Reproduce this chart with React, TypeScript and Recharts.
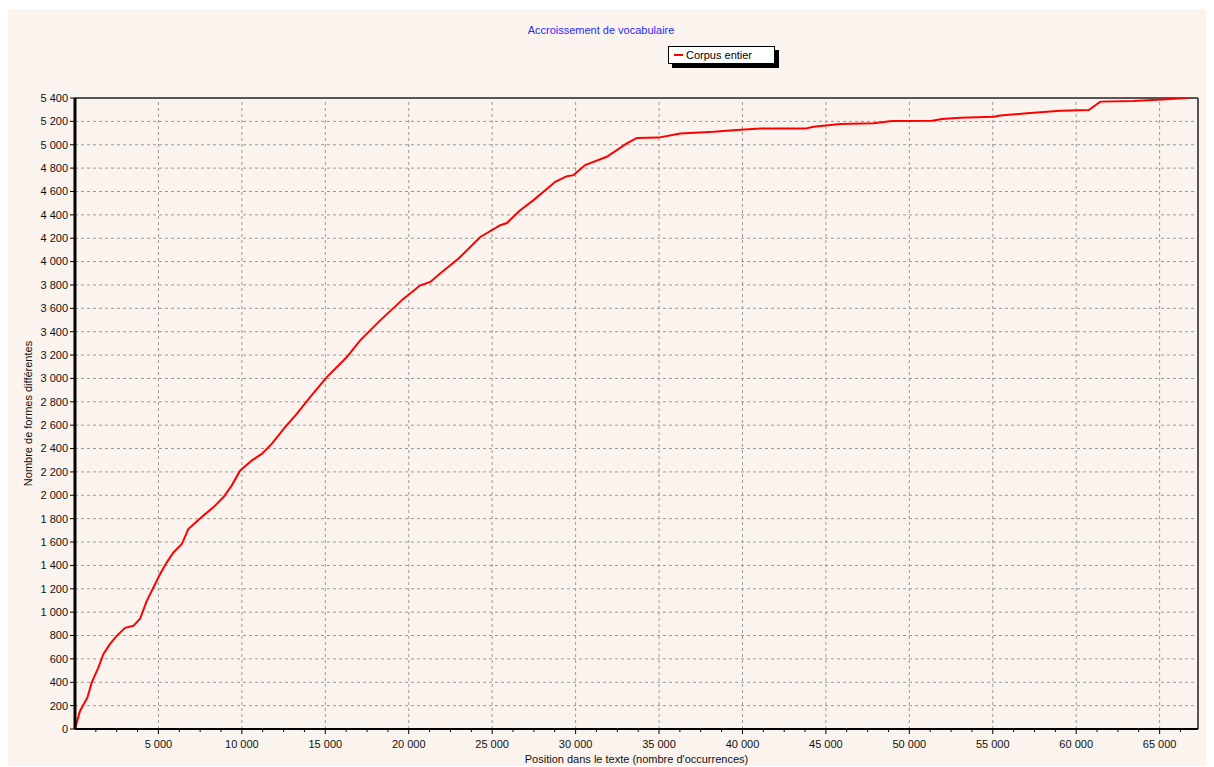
import React from "react";
import {
  LineChart,
  Line,
  XAxis,
  YAxis,
  CartesianGrid,
  ReferenceLine,
  Legend,
} from "recharts";

// position in text (occurrences) and number of distinct forms
const positions = [
  0, 300, 740, 1000, 1400, 1700, 2100, 2500, 3000, 3500, 3900, 4300, 4700,
  5100, 5500, 5900, 6400, 6790, 7690, 8290, 8890, 9390, 9890, 10590, 11190,
  11790, 12590, 13290, 14090, 15090, 16290, 17090, 18290, 19690, 20690, 21290,
  21990, 22990, 24290, 25490, 25880, 26680, 27480, 28780, 29480, 29880, 30570,
  31870, 33070, 33670, 34970, 36270, 38270, 39670, 41070, 43760, 44260, 45860,
  47860, 48960, 51360, 51960, 53060, 55060, 55450, 57050, 58050, 59050, 60750,
  61450, 63450, 65450, 66750,
];
const forms = [
  0, 154, 268, 397, 525, 640, 728, 797, 866, 883, 943, 1097, 1211, 1326, 1426,
  1511, 1583, 1711, 1826, 1897, 1983, 2083, 2211, 2297, 2354, 2440, 2583, 2697,
  2840, 3011, 3183, 3326, 3497, 3683, 3797, 3826, 3911, 4026, 4211, 4311, 4330,
  4440, 4526, 4683, 4731, 4740, 4826, 4897, 5011, 5058, 5061, 5097, 5111, 5126,
  5138, 5138, 5154, 5177, 5183, 5203, 5206, 5220, 5231, 5240, 5251, 5269, 5280,
  5291, 5297, 5369, 5374, 5389, 5403,
];

const xMajorTicks = [
  5000, 10000, 15000, 20000, 25000, 30000, 35000, 40000, 45000, 50000, 55000,
  60000, 65000,
];
const xAllTicks = [
  1250, 2500, 3750, 5000, 6250, 7500, 8750, 10000, 11250, 12500, 13750, 15000,
  16250, 17500, 18750, 20000, 21250, 22500, 23750, 25000, 26250, 27500, 28750,
  30000, 31250, 32500, 33750, 35000, 36250, 37500, 38750, 40000, 41250, 42500,
  43750, 45000, 46250, 47500, 48750, 50000, 51250, 52500, 53750, 55000, 56250,
  57500, 58750, 60000, 61250, 62500, 63750, 65000, 66250,
];
const yTicks = [
  0, 200, 400, 600, 800, 1000, 1200, 1400, 1600, 1800, 2000, 2200, 2400, 2600,
  2800, 3000, 3200, 3400, 3600, 3800, 4000, 4200, 4400, 4600, 4800, 5000, 5200,
  5400,
];

const X_MAX = 67300;
const Y_MAX = 5400;

const data = positions.map((p, i) => ({ pos: p, forms: forms[i] }));

const FONT = "'Liberation Sans', Arial, sans-serif";
const BG = "#FBF3ED";

const fmt = (v: number) =>
  v >= 1000 ? `${Math.floor(v / 1000)} ${String(v % 1000).padStart(3, "0")}` : `${v}`;

const PLOT_BOTTOM = 720;

const XTick = (props: any) => {
  const { x, payload } = props;
  const major = payload.value % 5000 === 0;
  return (
    <g>
      <line
        x1={x}
        x2={x}
        y1={PLOT_BOTTOM}
        y2={PLOT_BOTTOM + (major ? 5 : 3)}
        stroke="#000"
        strokeWidth={1}
      />
      {major && (
        <text
          x={x}
          y={PLOT_BOTTOM + 19}
          textAnchor="middle"
          fontSize={11}
          fontFamily={FONT}
          fill="#111"
        >
          {fmt(payload.value)}
        </text>
      )}
    </g>
  );
};

const YLabel = (props: any) => {
  const { viewBox } = props;
  const cx = viewBox.x + 20;
  const cy = viewBox.y + viewBox.height / 2;
  return (
    <text
      x={cx}
      y={cy}
      transform={`rotate(-90 ${cx} ${cy})`}
      textAnchor="middle"
      dominantBaseline="central"
      fontSize={11}
      fontFamily={FONT}
      fill="#111"
    >
      Nombre de formes différentes
    </text>
  );
};

const LegendBox = () => (
  <div
    style={{
      display: "flex",
      alignItems: "center",
      background: "#fff",
      border: "1px solid #000",
      boxShadow: "4px 4px 0 #000",
      width: 105,
      height: 16,
      fontFamily: FONT,
      fontSize: 11,
      color: "#000",
    }}
  >
    <span
      style={{
        display: "inline-block",
        width: 9,
        height: 2,
        background: "#ff0000",
        marginLeft: 5,
        marginRight: 3,
      }}
    />
    Corpus entier
  </div>
);

export default function App() {
  return (
    <div
      style={{
        position: "relative",
        top: 1,
        width: 1206,
        height: 758,
        background: BG,
      }}
    >
      <div
        style={{
          position: "absolute",
          left: 0,
          width: 1186,
          top: 15,
          textAlign: "center",
          fontFamily: FONT,
          fontSize: 11,
          color: "#2a2aff",
          lineHeight: "13px",
        }}
      >
        Accroissement de vocabulaire
      </div>
      <LineChart
        width={1206}
        height={758}
        data={data}
        margin={{ top: 89, right: 16, left: 0, bottom: 0 }}
      >
        <CartesianGrid
          vertical={false}
          stroke="#9a9a9a"
          strokeDasharray="3 3"
        />
        {xMajorTicks.map((t) => (
          <ReferenceLine
            key={t}
            x={t}
            stroke="#9a9a9a"
            strokeDasharray="3 3"
          />
        ))}
        <ReferenceLine y={Y_MAX} stroke="#555" strokeWidth={2} />
        <ReferenceLine x={X_MAX} stroke="#555" strokeWidth={2} />
        <XAxis
          dataKey="pos"
          type="number"
          domain={[0, X_MAX]}
          ticks={xAllTicks}
          interval={0}
          height={38}
          tickLine={false}
          tick={<XTick />}
          axisLine={{ stroke: "#000", strokeWidth: 2 }}
          allowDataOverflow
          label={{
            value: "Position dans le texte (nombre d'occurrences)",
            position: "insideBottom",
            offset: 4,
            fontSize: 11,
            fontFamily: FONT,
            fill: "#111",
          }}
        />
        <YAxis
          type="number"
          domain={[0, Y_MAX]}
          ticks={yTicks}
          interval={0}
          width={67}
          tickSize={5}
          tickMargin={2}
          tickFormatter={fmt}
          tick={{ fontSize: 11, fontFamily: FONT, fill: "#111" }}
          tickLine={{ stroke: "#000" }}
          axisLine={{ stroke: "#000", strokeWidth: 3 }}
          allowDataOverflow
          label={<YLabel />}
        />
        <Legend
          layout="vertical"
          align="center"
          verticalAlign="middle"
          wrapperStyle={{ top: 37, left: 660, width: 110, height: 22 }}
          content={() => <LegendBox />}
        />
        <Line
          type="linear"
          dataKey="forms"
          stroke="#ff0000"
          strokeWidth={2}
          dot={false}
          isAnimationActive={false}
        />
      </LineChart>
    </div>
  );
}
